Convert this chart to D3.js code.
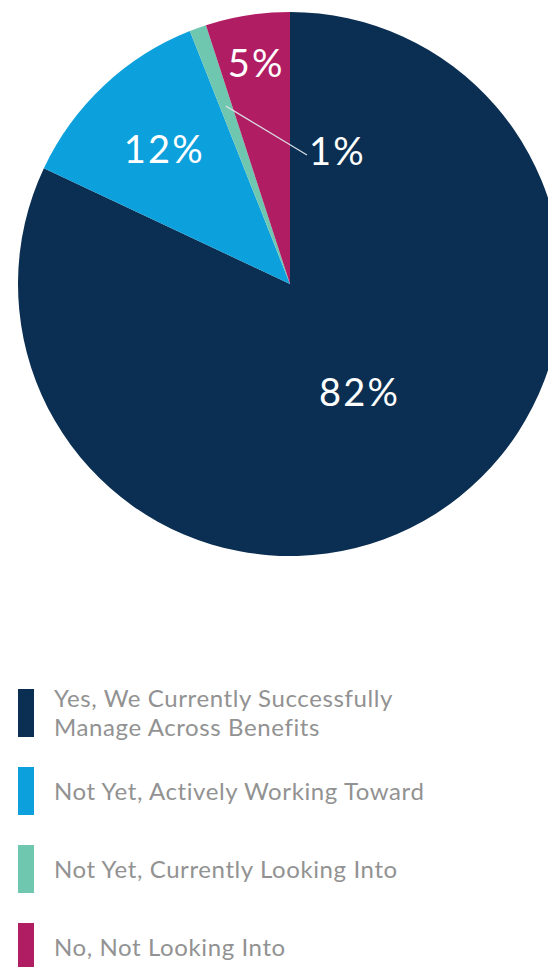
<!DOCTYPE html>
<html>
<head>
<meta charset="utf-8">
<script src="https://cdn.jsdelivr.net/npm/d3@7"></script>
<style>
  html, body { margin: 0; padding: 0; background: #ffffff; }
  svg { display: block; }
</style>
</head>
<body>
<svg id="chart" width="548" height="967"></svg>
<script>
// Survey response shares
const categories = [
  "Yes, We Currently Successfully Manage Across Benefits",
  "Not Yet, Actively Working Toward",
  "Not Yet, Currently Looking Into",
  "No, Not Looking Into"
];
const legendLines = [
  ["Yes, We Currently Successfully", "Manage Across Benefits"],
  ["Not Yet, Actively Working Toward"],
  ["Not Yet, Currently Looking Into"],
  ["No, Not Looking Into"]
];
const values = [82, 12, 1, 5];
const colors = ["#0b2f52", "#0ca0dc", "#6fc7b0", "#b11d63"];

const svg = d3.select("#chart");
const cx = 290, cy = 284, R = 272;

const pie = d3.pie().sort(null).value(d => d)(values);
const arc = d3.arc().innerRadius(0).outerRadius(R);

const g = svg.append("g").attr("transform", `translate(${cx},${cy})`);

g.selectAll("path.slice")
  .data(pie)
  .join("path")
  .attr("class", "slice")
  .attr("d", arc)
  .attr("fill", (d, i) => colors[i]);

// Label radii as a fraction of the pie radius; small slices get an outside label
const labelRadius = [0.47, 0.68, 0.25, 0.82];
const labelFont = "Lato, 'Open Sans', sans-serif";

function pctLabel(sel, text) {
  return sel
    .attr("font-family", labelFont)
    .attr("font-size", 38)
    .attr("font-weight", 400)
    .attr("letter-spacing", 2.2)
    .attr("fill", "#ffffff")
    .text(text);
}

pie.forEach((d, i) => {
  const mid = (d.startAngle + d.endAngle) / 2;
  const text = values[i] + "%";
  if (values[i] < 3) {
    // leader line from inside the thin slice out to the label
    const r0 = R * 0.695;
    const x0 = Math.sin(mid) * r0, y0 = -Math.cos(mid) * r0;
    const x1 = 307 - cx, y1 = 155 - cy;
    g.append("line")
      .attr("x1", x0).attr("y1", y0)
      .attr("x2", x1).attr("y2", y1)
      .attr("stroke", "#d9dde3")
      .attr("stroke-width", 1.2);
    pctLabel(g.append("text")
      .attr("x", x1 + 2).attr("y", y1 + 10)
      .attr("text-anchor", "start"), text);
  } else {
    const r = R * labelRadius[i];
    pctLabel(g.append("text")
      .attr("x", Math.sin(mid) * r + 1)
      .attr("y", -Math.cos(mid) * r)
      .attr("dy", "0.36em")
      .attr("text-anchor", "middle"), text);
  }
});

// Legend
const legendY = d3.scaleBand().domain(d3.range(categories.length)).range([671, 983]);
const legend = svg.append("g");
categories.forEach((c, i) => {
  const lines = legendLines[i];
  const top = legendY(i) + 18;
  const h = 48;
  legend.append("rect")
    .attr("x", 18).attr("y", top)
    .attr("width", 16).attr("height", h)
    .attr("fill", colors[i]);
  const lh = 29;
  const firstBase = top + h / 2 + 8.5 - (lines.length - 1) * lh / 2;
  const t = legend.append("text")
    .attr("font-family", "Lato, sans-serif")
    .attr("font-size", 24)
    .attr("font-weight", 400)
    .attr("letter-spacing", 0.6)
    .attr("fill", "#929292");
  lines.forEach((ln, k) => {
    t.append("tspan").attr("x", 54).attr("y", firstBase + k * lh).text(ln);
  });
});
</script>
</body>
</html>
